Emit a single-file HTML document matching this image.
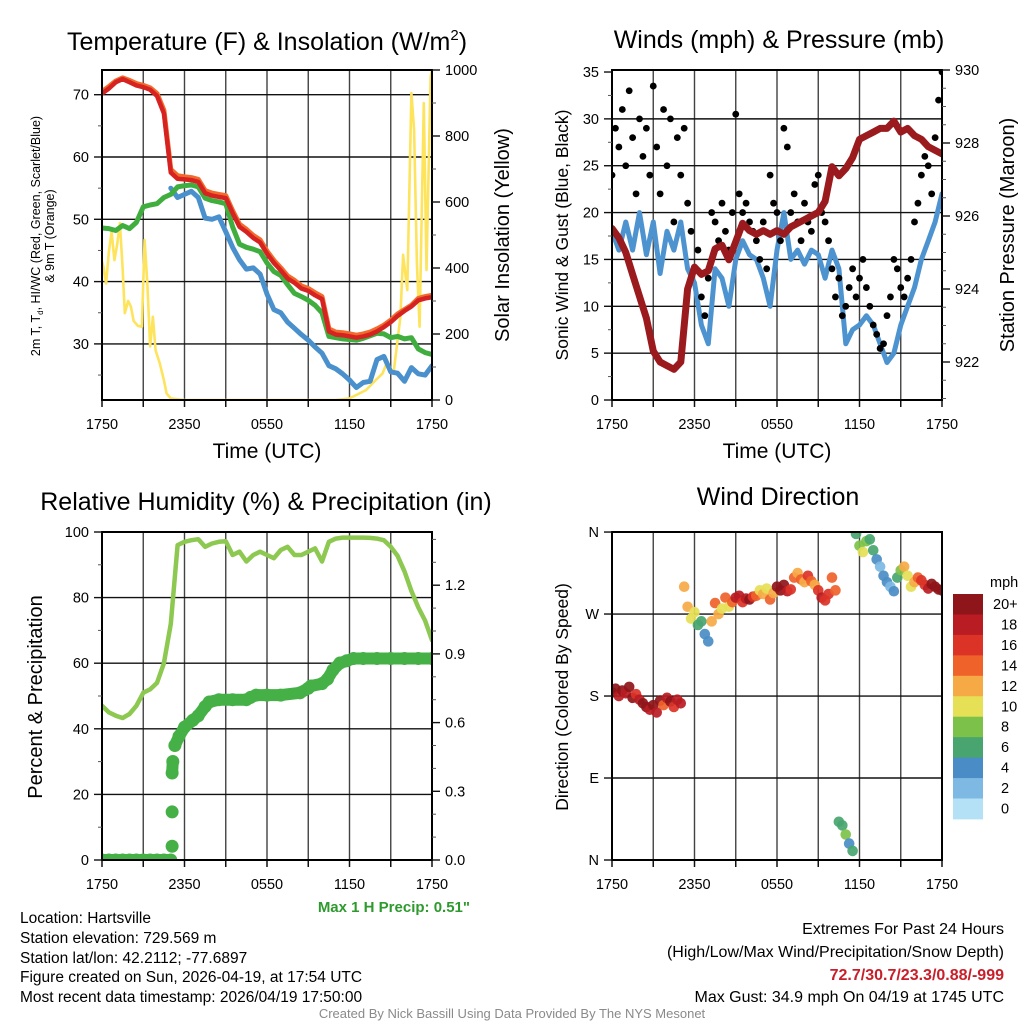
<!DOCTYPE html>
<html><head><meta charset="utf-8">
<style>
html,body{margin:0;padding:0;background:#fff;}
svg{display:block;font-family:"Liberation Sans",Arial,sans-serif;}
</style></head>
<body>
<svg id="fig" width="1024" height="1024" viewBox="0 0 1024 1024">
<defs>
<clipPath id="c1"><rect x="102" y="70" width="330" height="330"/></clipPath>
<clipPath id="c2"><rect x="612" y="70" width="330" height="330"/></clipPath>
<clipPath id="c3"><rect x="102" y="532" width="330" height="328"/></clipPath>
<clipPath id="c4"><rect x="612" y="532" width="330" height="328"/></clipPath>
</defs>
<!-- titles -->
<text x="267" y="50" font-size="25" text-anchor="middle">Temperature (F) &amp; Insolation (W/m<tspan dy="-10" font-size="15">2</tspan><tspan dy="10">)</tspan></text>
<text x="779" y="48" font-size="25" text-anchor="middle">Winds (mph) &amp; Pressure (mb)</text>
<text x="266" y="510" font-size="25" text-anchor="middle">Relative Humidity (%) &amp; Precipitation (in)</text>
<text x="778" y="505" font-size="25" text-anchor="middle">Wind Direction</text>
<!-- axis titles -->
<text transform="translate(40,236) rotate(-90)" font-size="12.5" text-anchor="middle"><tspan x="0" dy="0">2m T, T<tspan font-size="8" dy="3">d</tspan><tspan dy="-3">, HI/WC (Red, Green, Scarlet/Blue)</tspan></tspan><tspan x="0" dy="14">&amp; 9m T (Orange)</tspan></text>
<text transform="translate(509,235) rotate(-90)" font-size="20" text-anchor="middle">Solar Insolation (Yellow)</text>
<text x="267" y="458" font-size="21" text-anchor="middle">Time (UTC)</text>
<text x="777" y="458" font-size="21" text-anchor="middle">Time (UTC)</text>
<text transform="translate(568,235) rotate(-90)" font-size="17.5" text-anchor="middle">Sonic Wind &amp; Gust (Blue, Black)</text>
<text transform="translate(1014,235) rotate(-90)" font-size="20" text-anchor="middle">Station Pressure (Maroon)</text>
<text transform="translate(42,697) rotate(-90)" font-size="20" text-anchor="middle">Percent &amp; Precipitation</text>
<text transform="translate(568,697) rotate(-90)" font-size="17.5" text-anchor="middle">Direction (Colored By Speed)</text>
<!-- footer texts -->
<text x="470" y="912" font-size="15" font-weight="bold" fill="#2e9a2e" text-anchor="end">Max 1 H Precip: 0.51"</text>
<g font-size="15.5">
<text x="20" y="923">Location: Hartsville</text>
<text x="20" y="943">Station elevation: 729.569 m</text>
<text x="20" y="963">Station lat/lon: 42.2112; -77.6897</text>
<text x="20" y="982">Figure created on Sun, 2026-04-19, at 17:54 UTC</text>
<text x="20" y="1002">Most recent data timestamp: 2026/04/19 17:50:00</text>
</g>
<g font-size="16" text-anchor="end">
<text x="1004" y="934">Extremes For Past 24 Hours</text>
<text x="1004" y="957">(High/Low/Max Wind/Precipitation/Snow Depth)</text>
<text x="1004" y="980" font-weight="bold" fill="#c8202a">72.7/30.7/23.3/0.88/-999</text>
<text x="1004" y="1002">Max Gust: 34.9 mph On 04/19 at 1745 UTC</text>
</g>
<text x="512" y="1018" font-size="13" fill="#8a8a8a" text-anchor="middle">Created By Nick Bassill Using Data Provided By The NYS Mesonet</text>
<g id="plots"></g>
</svg>
<script>
// ---------- data ----------
const tickTimeLabels = ["1750","2350","0550","1150","1750"];
const halfHours = [0,0.5,1,1.5,2,2.5,3,3.5,4,4.5,5,5.5,6,6.5,7,7.5,8,8.5,9,9.5,10,10.5,11,11.5,12,12.5,13,13.5,14,14.5,15,15.5,16,16.5,17,17.5,18,18.5,19,19.5,20,20.5,21,21.5,22,22.5,23,23.5,24];
const tempF = [70.2,71,72,72.5,72,71.5,71.2,70.8,69.8,67,57.5,56.5,56.4,56.3,56,54.2,53.8,53.6,53.4,51,48.8,48,47,46.3,44.5,43,41.8,40.5,39.8,38.9,38.5,37.8,37.2,32,31.5,31.4,31.2,31,31.2,31.5,32,32.7,33.5,34.5,35.3,36,37,37.3,37.5];
const temp9mF = [70.5,71.3,72.2,72.7,72.3,71.8,71.5,71.1,70.2,67.5,58,57,56.8,56.7,56.4,54.6,54.2,54,53.8,51.4,49.2,48.4,47.4,46.7,44.9,43.4,42.2,40.9,40.2,39.3,38.9,38.2,37.6,32.4,31.9,31.8,31.6,31.4,31.6,31.9,32.4,33,33.8,34.8,35.5,36.2,37.3,37.6,37.8];
const dewF = [48.6,48.5,48.2,49,48.5,49.5,52,52.3,52.5,53.5,54,55.2,55.4,55.5,55.2,53.4,53,52.8,52.5,48.8,46,45.5,45.2,44.8,43,41.6,41,39.5,38.1,37.6,37,36.2,35,31.2,31,30.8,30.7,30.6,30.9,31.3,31.7,31.6,31,31.2,30.8,31,29.2,28.6,28.3];
const windChillF = [null,null,null,null,null,null,null,null,null,null,55,53.5,54,54.5,53.5,50.2,50,50.4,48,45.5,43.5,42,42.2,41.2,38,35.5,35,33.5,32.5,31.5,30.6,29.5,28.5,26.5,26,25.2,24.2,23,23.8,24,27.5,28,25.5,25.3,24,26.2,25.2,25,26.5];
const solarHours = [0,0.1,0.3,0.5,0.7,0.9,1.1,1.3,1.5,1.66,1.9,2.1,2.3,2.6,2.9,3.1,3.3,3.5,3.7,3.9,4.2,4.5,4.7,5.0,6,10,15,17,18,19.2,19.9,20.4,20.7,21.2,21.7,21.9,22.2,22.5,22.7,22.9,23.1,23.4,23.6,23.9,24];
const solarWm2 = [420,404,353,450,510,424,470,536,400,263,300,283,240,225,222,485,350,162,252,150,111,60,20,5,0,0,0,0,5,30,60,80,111,80,252,440,333,930,818,414,222,900,394,980,1000];
const windMph = [18,16,19,16,20,15.5,19,13.5,18,16,19,14,12.5,8,6,14,13,10,15,17,15.5,15,13,10,16,20,15,16,14.5,16,15.5,13,16,14,6,7.5,8,9,8,6,4,5,8,10,12,15,17,19,22];
const pressureMb = [925.66,925.4,925.0,924.4,923.8,923.2,922.3,922.0,921.9,921.8,922.0,924.0,924.6,924.4,924.5,925.1,925.2,924.8,925.3,925.8,925.6,925.5,925.6,925.5,925.6,925.5,925.7,925.8,925.9,926.0,926.1,926.4,927.35,927.1,927.3,927.6,928.1,928.2,928.3,928.4,928.4,928.6,928.3,928.4,928.2,928.1,927.9,927.8,927.7];
const gustMph = [24,29,27,31,25,33,28,22,30,26,29,24,33.5,27,22,31,25,30,19,28,24,29,21,18,14,16,11,9,13,20,19,17,21,18,16,20,30.5,22,20,21,19,18,17,15,19,14,24,21,20,17,29,27,20,22,19,17,21,19,18,23,24,20,19,17,14,11,13,9,10,12,14,11,13,15,12,10,8,7,5.5,6,9,11,15,14,12,11,13,15,19,21,24,26,25,22,28,32,35];
const humidityPct = [47,45,44,43.3,44.5,47,51,52,54,60,72,96,97,97.5,97.8,95.5,96.5,97,97.2,93,94,91,93,94,93,92,94.5,95.5,93,93,94,95,91,97,98,98.3,98.3,98.3,98.3,98.2,98,97.5,95.5,92.7,88,82,77,73,67];
const precipHours = [0,0.5,1,1.5,2,2.5,3,3.5,4,4.5,5.0,5.1,5.1,5.1,5.15,5.3,5.6,6,6.6,7,7.5,7.8,8.5,9.5,10.5,10.8,11.2,12,13,14.4,15,15.2,16,16.4,16.8,17.3,17.8,18.3,19,20,21,22,23,24];
const precipIn = [0,0,0,0,0,0,0,0,0,0,0,0.06,0.21,0.38,0.43,0.5,0.54,0.58,0.61,0.63,0.67,0.69,0.70,0.70,0.70,0.71,0.72,0.72,0.72,0.73,0.75,0.76,0.77,0.79,0.83,0.86,0.87,0.88,0.88,0.88,0.88,0.88,0.88,0.88];
const dirHours = [0,0.25,0.5,0.75,1,1.25,1.5,1.75,2,2.25,2.5,2.75,3,3.25,3.5,3.75,4,4.25,4.5,4.75,5,5.25,5.5,5.75,6,6.25,6.5,6.75,7,7.25,7.5,7.75,8,8.25,8.5,8.75,9,9.25,9.5,9.75,10,10.25,10.5,10.75,11,11.25,11.5,11.75,12,12.25,12.5,12.75,13,13.25,13.5,13.75,14,14.25,14.5,14.75,15,15.25,15.5,15.75,16,16.25,16.5,16.75,17,17.25,17.5,17.75,18,18.25,18.5,18.75,19,19.25,19.5,19.75,20,20.25,20.5,20.75,21,21.25,21.5,21.75,22,22.25,22.5,22.75,23,23.25,23.5,23.75,24];
const dirDeg = [184,188,180,186,183,190,178,182,176,172,168,165,170,162,175,170,178,174,168,176,172,300,278,265,272,258,262,248,240,262,282,270,276,288,278,283,288,290,283,287,286,289,290,296,292,298,286,293,300,296,302,295,297,310,315,308,305,312,306,302,296,288,285,292,310,296,42,38,28,18,10,358,345,338,350,352,340,330,322,312,305,300,295,310,318,322,312,300,305,310,307,302,298,303,300,297,296];
const dirSpeed = [20,22,19,21,18,20,22,16,19,21,20,18,22,19,20,15,18,21,17,19,18,13,12,10,11,7,6,5,4,12,14,13,11,14,10,15,18,19,17,18,20,17,14,10,13,11,14,13,21,22,20,18,16,14,12,14,13,16,14,12,16,18,17,16,14,15,6,7,8,5,6,6,9,10,8,7,6,4,3,5,4,3,4,7,8,12,11,10,13,15,17,16,18,20,21,22,21];
const speedBins = ["20+","18","16","14","12","10","8","6","4","2","0"];
const speedColors = ["#8e1519","#b91c23","#dc3327","#ef622a","#f6aa45","#e6e057","#7cc24a","#48a56f","#4a8dc6","#7db9e3","#b5e1f6"];

// ---------- helpers ----------
const NS = "http://www.w3.org/2000/svg";
const root = document.getElementById("plots");
function mk(tag, attrs, parent){ const e=document.createElementNS(NS,tag); for(const k in attrs) e.setAttribute(k,attrs[k]); (parent||root).appendChild(e); return e; }
function pathD(xs, ys, fx, fy){ let d="", pen=false; for(let i=0;i<xs.length;i++){ if(ys[i]===null||ys[i]===undefined){pen=false;continue;} d+=(pen?"L":"M")+fx(xs[i]).toFixed(1)+","+fy(ys[i]).toFixed(1); pen=true;} return d; }

// scales
const X1=h=>102+h*13.75, X2=h=>612+h*13.75;
const T1=v=>94.7-(v-70)*6.23, S1=w=>400-w*0.33;
const W2=v=>400-v*9.371, P2=mb=>362-(mb-922)*36.5;
const R3=v=>860-v*3.28, PR3=v=>860-v*229;
const D4=d=>860-d*0.911;

function frame(x0,y0,w,h,hgrid,name){
  const g=mk("g",{});
  
  
  for(let k=1;k<8;k++){ const x=x0+k*w/8; mk("line",{x1:x,y1:y0,x2:x,y2:y0+h,stroke:"#222","stroke-width":1.4,opacity:0.85},g); }
  hgrid.forEach(y=>mk("line",{x1:x0,y1:y,x2:x0+w,y2:y,stroke:"#111","stroke-width":1.4},g));
  for(let k=0;k<=8;k++){ const x=x0+k*w/8; mk("line",{x1:x,y1:y0+h,x2:x,y2:y0+h+7,stroke:"#111","stroke-width":1.5},g); }
  tickTimeLabels.forEach((t,i)=>{ const tx=mk("text",{x:x0+i*w/4,y:y0+h+29,"font-size":14.5,"text-anchor":"middle"},g); tx.textContent=t;
    
     });
  return g;
}
function border(x0,y0,w,h,name){
  const r=mk("rect",{x:x0,y:y0,width:w,height:h,fill:"none",stroke:"#000","stroke-width":2});
  
  
}
function yTicks(xAxis, vals, fy, labels, side, minors){
  const g=mk("g",{});
  
  
  const dir = side==="left"?-1:1;
  vals.forEach((v,i)=>{ const y=fy(v); mk("line",{x1:xAxis,y1:y,x2:xAxis+dir*8,y2:y,stroke:"#111","stroke-width":1.4},g);
    const t=mk("text",{x:xAxis+dir*13,y:y+5,"font-size":14.5,"text-anchor":side==="left"?"end":"start"},g); t.textContent=labels[i];
    
     });
  (minors||[]).forEach(v=>{ const y=fy(v); mk("line",{x1:xAxis,y1:y,x2:xAxis+dir*4,y2:y,stroke:"#555","stroke-width":1},g); });
}

// ---------- panel 1 ----------
frame(102,70,330,330,[30,40,50,60,70].map(T1),"temperature");
(function(){
  const g=mk("g",{"clip-path":"url(#c1)",fill:"none","stroke-linejoin":"round","stroke-linecap":"round"});
  
  
  let p=mk("path",{d:pathD(solarHours,solarWm2,X1,S1),stroke:"#fde45c","stroke-width":2.6},g);
  
  
  p=mk("path",{d:pathD(halfHours,windChillF,X1,T1),stroke:"#4a90cc","stroke-width":5},g);
  
  
  p=mk("path",{d:pathD(halfHours,dewF,X1,T1),stroke:"#3fae3f","stroke-width":5},g);
  
  
  p=mk("path",{d:pathD(halfHours,temp9mF,X1,T1),stroke:"#f36b2c","stroke-width":5},g);
  
  
  p=mk("path",{d:pathD(halfHours,tempF,X1,T1),stroke:"#d62321","stroke-width":4.5},g);
  
  
})();
border(102,70,330,330,"temperature");
yTicks(102,[30,40,50,60,70],T1,["30","40","50","60","70"],"left",[25,35,45,55,65]);
yTicks(432,[0,200,400,600,800,1000],S1,["0","200","400","600","800","1000"],"right",[100,300,500,700,900]);

// ---------- panel 2 ----------
frame(612,70,330,330,[5,10,15,20,25,30].map(W2),"winds");
(function(){
  const g=mk("g",{"clip-path":"url(#c2)","stroke-linejoin":"round","stroke-linecap":"round"});
  
  
  let p=mk("path",{d:pathD(halfHours,windMph,X2,W2),stroke:"#4d93cf",fill:"none","stroke-width":5},g);
  
  
  const gg=mk("g",{fill:"#000"},g);
  
  
  gustMph.forEach((v,i)=>{ const c=mk("circle",{cx:X2(i*0.25),cy:W2(v),r:3.4},gg);
    
     });
  p=mk("path",{d:pathD(halfHours,pressureMb,X2,P2),stroke:"#9b1a1d",fill:"none","stroke-width":7},g);
  
  
})();
border(612,70,330,330,"winds");
yTicks(612,[0,5,10,15,20,25,30,35],W2,["0","5","10","15","20","25","30","35"],"left",[2.5,7.5,12.5,17.5,22.5,27.5,32.5]);
yTicks(942,[922,924,926,928,930],P2,["922","924","926","928","930"],"right",[921,921.5,922.5,923,923.5,924.5,925,925.5,926.5,927,927.5,928.5,929,929.5]);

// ---------- panel 3 ----------
frame(102,532,330,328,[20,40,60,80].map(R3),"humidity");
(function(){
  const g=mk("g",{"clip-path":"url(#c3)","stroke-linejoin":"round","stroke-linecap":"round"});
  
  
  let p=mk("path",{d:pathD(halfHours,humidityPct,X1,R3),stroke:"#8dc851",fill:"none","stroke-width":4.5},g);
  
  
  const gp=mk("g",{},g);
  
  
  let d="";
  for(let i=1;i<precipIn.length;i++){ if(Math.abs(precipIn[i]-precipIn[i-1])<0.05){ d+="M"+X1(precipHours[i-1]).toFixed(1)+","+PR3(precipIn[i-1]).toFixed(1)+"L"+X1(precipHours[i]).toFixed(1)+","+PR3(precipIn[i]).toFixed(1); } }
  mk("path",{d:d,stroke:"#45b046",fill:"none","stroke-width":12},gp);
  precipIn.forEach((v,i)=>{ const c=mk("circle",{cx:X1(precipHours[i]),cy:PR3(v),r:6.5,fill:"#45b046"},gp);
    
     });
})();
border(102,532,330,328,"humidity");
yTicks(102,[0,20,40,60,80,100],R3,["0","20","40","60","80","100"],"left",[10,30,50,70,90]);
yTicks(432,[0,0.3,0.6,0.9,1.2],PR3,["0.0","0.3","0.6","0.9","1.2"],"right",[0.1,0.2,0.4,0.5,0.7,0.8,1.0,1.1,1.3,1.4]);

// ---------- panel 4 ----------
frame(612,532,330,328,[90,180,270].map(D4),"direction");
(function(){
  const g=mk("g",{"clip-path":"url(#c4)"});
  
  
  dirDeg.forEach((d,i)=>{
    const s=dirSpeed[i]; const bin=Math.min(10,Math.floor(s/2)); const col=speedColors[10-bin];
    const c=mk("circle",{cx:X2(dirHours[i]),cy:D4(d),r:5.3,fill:col,opacity:0.92},g);
    
    
  });
})();
border(612,532,330,328,"direction");
yTicks(612,[0,90,180,270,360],D4,["N","E","S","W","N"],"left",[]);
// colorbar
(function(){
  const g=mk("g",{});
  
  
  const t=mk("text",{x:990,y:587,"font-size":14.5},g); t.textContent="mph";
  
  
  speedBins.forEach((lab,i)=>{
    const y=594+i*20.45;
    const r=mk("rect",{x:953,y:y,width:30,height:20.9,fill:speedColors[i]},g);
    
    
    const tx=mk("text",{x:lab.length>2?993:1001,y:y+15,"font-size":14.5},g); tx.textContent=lab;
    
    
  });
})();
</script>
</body></html>
